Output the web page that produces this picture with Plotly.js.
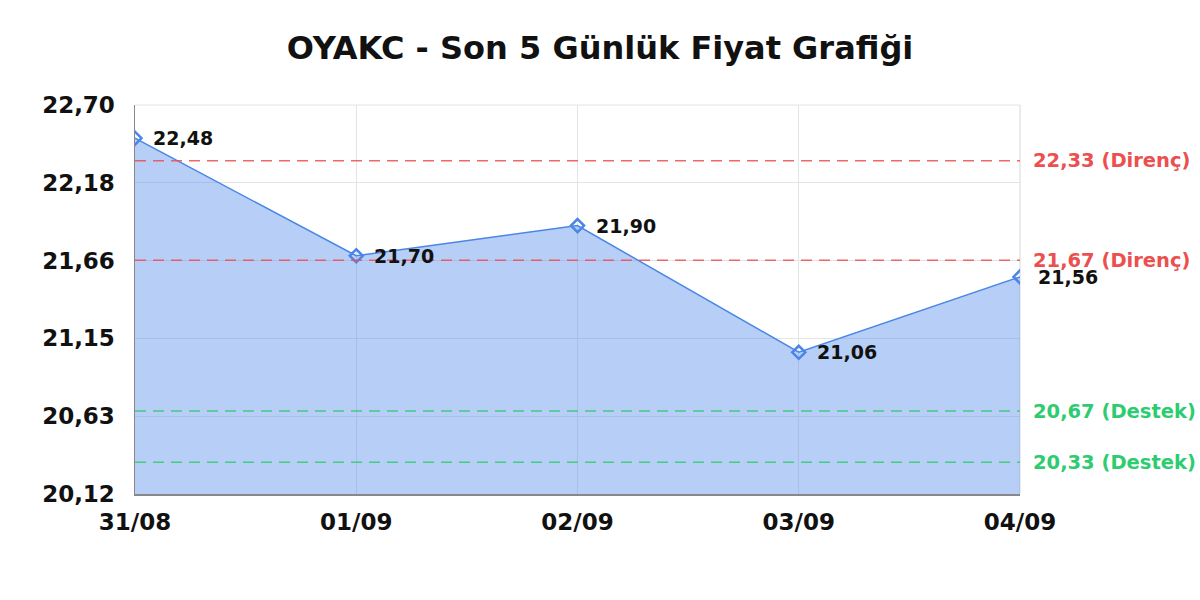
<!DOCTYPE html>
<html>
<head>
<meta charset="utf-8">
<script src="https://cdn.plot.ly/plotly-3.0.1.min.js"></script>
<style>
  html, body { margin: 0; padding: 0; background: #fff; }
  #chart { width: 1200px; height: 600px; }
</style>
</head>
<body>
<div id="chart"></div>
<script>
// ── data ────────────────────────────────────────────
const DAYS   = ['31/08', '01/09', '02/09', '03/09', '04/09'];
const PRICES = [22.48, 21.70, 21.90, 21.06, 21.56];

const RESISTANCE = [22.33, 21.67];   // Direnç
const SUPPORT    = [20.67, 20.33];   // Destek

const Y_TICKVALS = [20.12, 20.636, 21.152, 21.668, 22.184, 22.70];
const Y_TICKTEXT = ['20,12', '20,63', '21,15', '21,66', '22,18', '22,70'];
const Y_RANGE    = [20.12, 22.70];

// ── styles ──────────────────────────────────────────
const BLUE  = '#4a86e8';
const RED   = '#ec4f4f';
const GREEN = '#2ecc71';
const GRID  = '#e4e4e4';
const FONT  = 'DejaVu Sans, sans-serif';

const fmt = v => v.toFixed(2).replace('.', ',');

const trace = {
  type: 'scatter', mode: 'lines+markers',
  x: DAYS, y: PRICES,
  fill: 'tozeroy',
  fillcolor: 'rgba(74,134,232,0.4)',
  line: { color: BLUE, width: 1.5 },
  marker: { symbol: 'diamond-open', size: 10, color: BLUE, line: { width: 2.5, color: BLUE } },
  hoverinfo: 'skip',
};

// price labels next to each point
const pointLabels = DAYS.map((d, i) => ({
  x: d, y: PRICES[i], xref: 'x', yref: 'y',
  text: fmt(PRICES[i]),
  showarrow: false, xanchor: 'left', yanchor: 'middle',
  xshift: 16, yshift: 0,
  font: { family: FONT, size: 19, color: '#111', weight: 'bold' },
}));

const levels = [
  ...RESISTANCE.map(v => ({ v, color: RED,   name: 'Direnç' })),
  ...SUPPORT.map(v    => ({ v, color: GREEN, name: 'Destek' })),
];

// top / right frame lines in grid colour (edge gridlines)
const frame = [
  { type: 'line', xref: 'paper', yref: 'paper', x0: 0, x1: 1, y0: 1, y1: 1, line: { color: GRID, width: 1 }, layer: 'below' },
  { type: 'line', xref: 'paper', yref: 'paper', x0: 1, x1: 1, y0: 0, y1: 1, line: { color: GRID, width: 1.5 }, layer: 'below' },
];

const shapes = frame.concat(levels.map(l => ({
  type: 'line', xref: 'paper', yref: 'y',
  x0: 0, x1: 1, y0: l.v, y1: l.v,
  line: { color: l.color, width: 1.5, dash: '11px,7px' },
  opacity: 0.85,
})));

const levelLabels = levels.map(l => ({
  x: 1, y: l.v, xref: 'paper', yref: 'y',
  text: `${fmt(l.v)} (${l.name})`,
  showarrow: false, xanchor: 'left', yanchor: 'middle', xshift: 11,
  font: { family: FONT, size: 19.5, color: l.color, weight: 'bold' },
}));

const layout = {
  width: 1200, height: 600,
  margin: { l: 135, r: 180, t: 105, b: 106 },
  paper_bgcolor: '#fff', plot_bgcolor: '#fff',
  showlegend: false,
  title: {
    text: 'OYAKC - Son 5 Günlük Fiyat Grafiği',
    x: 0.5, xanchor: 'center', y: 0.92, yanchor: 'middle',
    font: { family: FONT, size: 32, color: '#111', weight: 'bold' },
  },
  xaxis: {
    type: 'category', range: [0, DAYS.length - 1],
    showgrid: true, gridcolor: GRID, gridwidth: 1,
    showline: true, linecolor: '#888', linewidth: 1.5,
    ticks: '', ticklabelstandoff: 7,
    tickfont: { family: FONT, size: 23, color: '#111', weight: 'bold' },
    zeroline: false, fixedrange: true,
  },
  yaxis: {
    range: Y_RANGE,
    tickmode: 'array', tickvals: Y_TICKVALS, ticktext: Y_TICKTEXT,
    showgrid: true, gridcolor: GRID, gridwidth: 1,
    showline: true, linecolor: '#888', linewidth: 1.5,
    ticks: '', ticklabelstandoff: 14,
    tickfont: { family: FONT, size: 23, color: '#111', weight: 'bold' },
    zeroline: false, fixedrange: true,
  },
  shapes,
  annotations: [...pointLabels, ...levelLabels],
};

Plotly.newPlot('chart', [trace], layout, { displayModeBar: false, staticPlot: true });
</script>
</body>
</html>
